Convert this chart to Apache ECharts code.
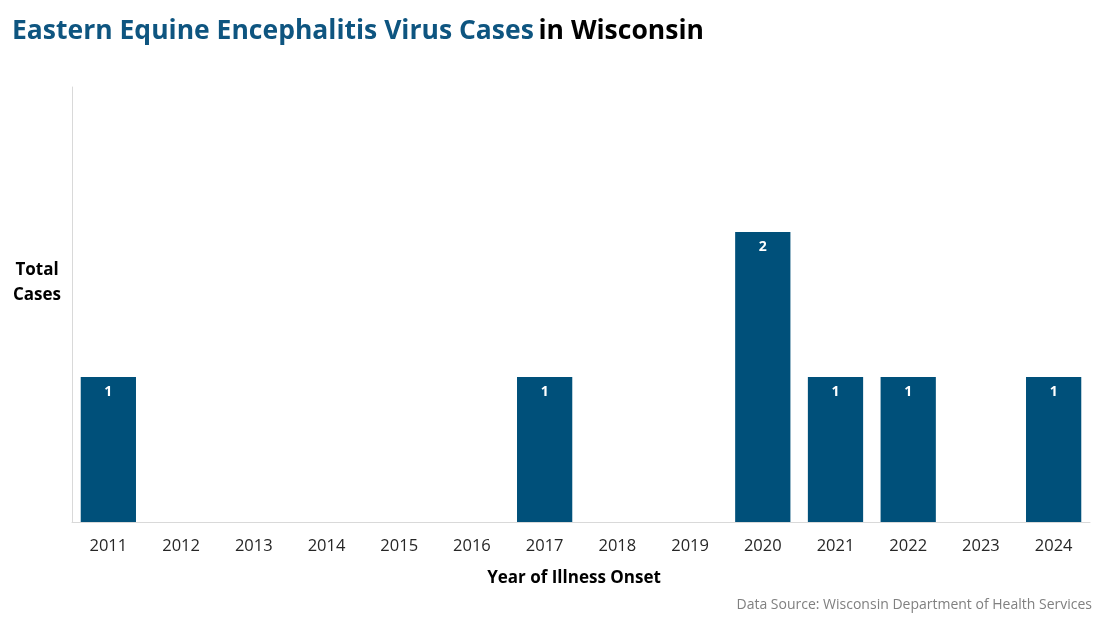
<!DOCTYPE html>
<html><head><meta charset="utf-8">
<script src="https://cdn.jsdelivr.net/npm/echarts@6/dist/echarts.min.js"></script>
<style>html,body{margin:0;padding:0;background:#fff}#c{width:1100px;height:619px}</style>
</head><body><div id="c"></div>
<script>
const years = ['2011','2012','2013','2014','2015','2016','2017','2018','2019','2020','2021','2022','2023','2024'];
const cases = [1, 0, 0, 0, 0, 0, 1, 0, 0, 2, 1, 1, 0, 1];
const yMax = 3;
const FONT = '"Open Sans", "Noto Sans", sans-serif';
const chart = echarts.init(document.getElementById('c'));
chart.setOption({
  animation: false,
  textStyle: {fontFamily: FONT},
  title: {
    left: 7, top: 13,
    text: '{a|Eastern Equine Encephalitis Virus Cases} {b|in Wisconsin}',
    textStyle: {
      rich: {
        a: {fontFamily: FONT, fontSize: 26.5, fontWeight: 'bold', color: '#0E5580'},
        b: {fontFamily: FONT, fontSize: 26.5, fontWeight: 'bold', color: '#000000'}
      }
    }
  },
  grid: {left: 72, right: 10, top: 87, bottom: 97},
  xAxis: {
    type: 'category', data: years,
    axisLine: {lineStyle: {color: '#d9d9d9', width: 1}},
    axisTick: {show: false},
    axisLabel: {color: '#262626', fontSize: 16.5, margin: 16, fontFamily: FONT},
    name: 'Year of Illness Onset', nameLocation: 'middle', nameGap: 48,
    nameTextStyle: {color: '#000', fontSize: 17, fontWeight: 'bold', fontFamily: FONT, padding: [0, 14, 0, 0]}
  },
  yAxis: {
    type: 'value', min: 0, max: yMax, interval: 1,
    axisLine: {show: true, lineStyle: {color: '#d9d9d9', width: 1}},
    axisTick: {show: false}, axisLabel: {show: false}, splitLine: {show: false}
  },
  series: [{
    type: 'bar', data: cases.map(v => v === 0 ? null : v),
    barCategoryGap: '24%',
    itemStyle: {color: '#00507A'},
    label: {show: true, position: 'insideTop', distance: 8, color: '#fff', fontWeight: 'bold', fontSize: 14, fontFamily: FONT}
  }],
  graphic: [
    {type: 'text', style: {x: 37, y: 258, text: 'Total\nCases', font: 'bold 17px ' + FONT, fill: '#000', lineHeight: 25, align: 'center'}},
    {type: 'text', right: 8, top: 598, style: {text: 'Data Source: Wisconsin Department of Health Services', font: '14px ' + FONT, fill: '#808080'}}
  ]
});
</script></body></html>
